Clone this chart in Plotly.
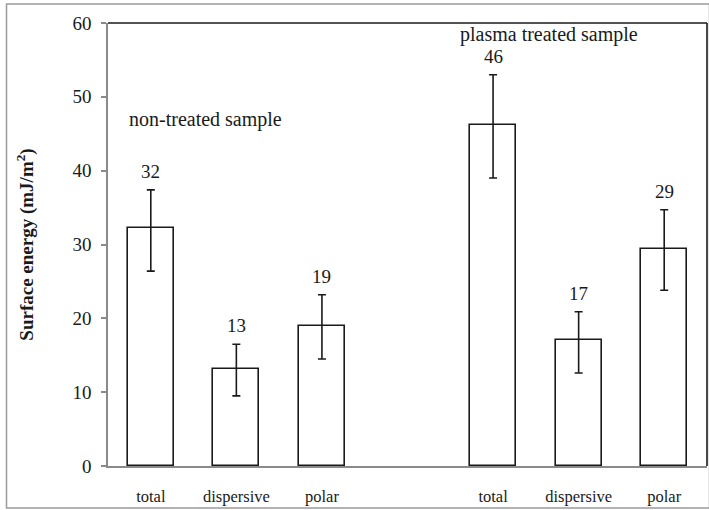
import plotly.graph_objects as go

# Data
categories = ["total", "dispersive", "polar", "total", "dispersive", "polar"]
positions = [0, 1, 2, 4, 5, 6]
values = [32.2, 13.1, 18.9, 46.2, 17.1, 29.4]
err_plus = [5.2, 3.4, 4.3, 6.8, 3.8, 5.3]
err_minus = [5.8, 3.6, 4.4, 7.2, 4.5, 5.6]
value_labels = ["32", "13", "19", "46", "17", "29"]
y_ticks = [0, 10, 20, 30, 40, 50, 60]
group_labels = ["non-treated sample", "plasma treated sample"]

W, H = 709, 510
ml, mr, mt, mb = 108, 2, 23, 44
pw, ph = W - ml - mr, H - mt - mb

SERIF = "Liberation Serif"
TXT = "#1a1a1a"

fig = go.Figure()
fig.add_trace(go.Bar(
    x=positions, y=values, width=0.54,
    marker=dict(color="white", line=dict(color=TXT, width=1.6)),
    error_y=dict(type="data", symmetric=False, array=err_plus, arrayminus=err_minus,
                 color=TXT, thickness=1.6, width=4),
    hoverinfo="skip",
))

annotations = []
for xp, v, ep, lab in zip(positions, values, err_plus, value_labels):
    annotations.append(dict(x=xp, y=v + ep, text=lab, showarrow=False, xref="x", yref="y",
                            yanchor="bottom", yshift=6, font=dict(family=SERIF, size=19, color=TXT)))
annotations.append(dict(x=-0.28, y=46.9, text=group_labels[0], showarrow=False, xref="x", yref="y",
                        xanchor="left", yanchor="middle", font=dict(family=SERIF, size=20, color=TXT)))
annotations.append(dict(x=4.65, y=58.4, text=group_labels[1], showarrow=False, xref="x", yref="y",
                        xanchor="center", yanchor="middle", font=dict(family=SERIF, size=20, color=TXT)))

def px_x(p):
    return (p - ml) / pw

def px_y(p):
    return (H - mb - p) / ph

shapes = [
    # outer gray border
    dict(type="rect", xref="paper", yref="paper", x0=px_x(6.5), x1=px_x(709.5), y0=px_y(508), y1=px_y(4),
         line=dict(color="#9a9a9a", width=1.5), fillcolor="rgba(0,0,0,0)", layer="below"),
    # top and right frame lines
    dict(type="line", xref="paper", yref="paper", x0=0, x1=1, y0=1, y1=1, line=dict(color=TXT, width=1.6)),
    dict(type="line", xref="paper", yref="paper", x0=1, x1=1, y0=0, y1=1, line=dict(color=TXT, width=1.6)),
]

fig.update_layout(
    width=W, height=H,
    margin=dict(l=ml, r=mr, t=mt, b=mb, pad=0, autoexpand=False),
    paper_bgcolor="white", plot_bgcolor="white",
    showlegend=False,
    bargap=0,
    font=dict(family=SERIF, color=TXT),
    annotations=annotations,
    shapes=shapes,
    xaxis=dict(range=[-0.5, 6.5], tickvals=positions, ticktext=categories, showgrid=False,
               zeroline=False, showline=True, linecolor="#8a8a8a", linewidth=1.5, ticks="",
               ticklabelstandoff=14, automargin=False,
               tickfont=dict(family=SERIF, size=16.5, color=TXT)),
    yaxis=dict(range=[0, 60], tickvals=y_ticks, showgrid=False, zeroline=False, showline=True,
               linecolor="#8a8a8a", linewidth=1.5, ticks="outside", ticklen=5, tickcolor="#8a8a8a",
               tickwidth=1.5, ticklabelstandoff=6, automargin=False,
               tickfont=dict(family=SERIF, size=19, color=TXT),
               title=dict(text="<b>Surface energy (mJ/m<sup>2</sup>)</b>", standoff=34,
                          font=dict(family=SERIF, size=19, color=TXT))),
)

fig.write_html("out.html", config={"displayModeBar": False},
               post_script="document.body.style.margin='0';document.body.style.overflow='hidden';")
